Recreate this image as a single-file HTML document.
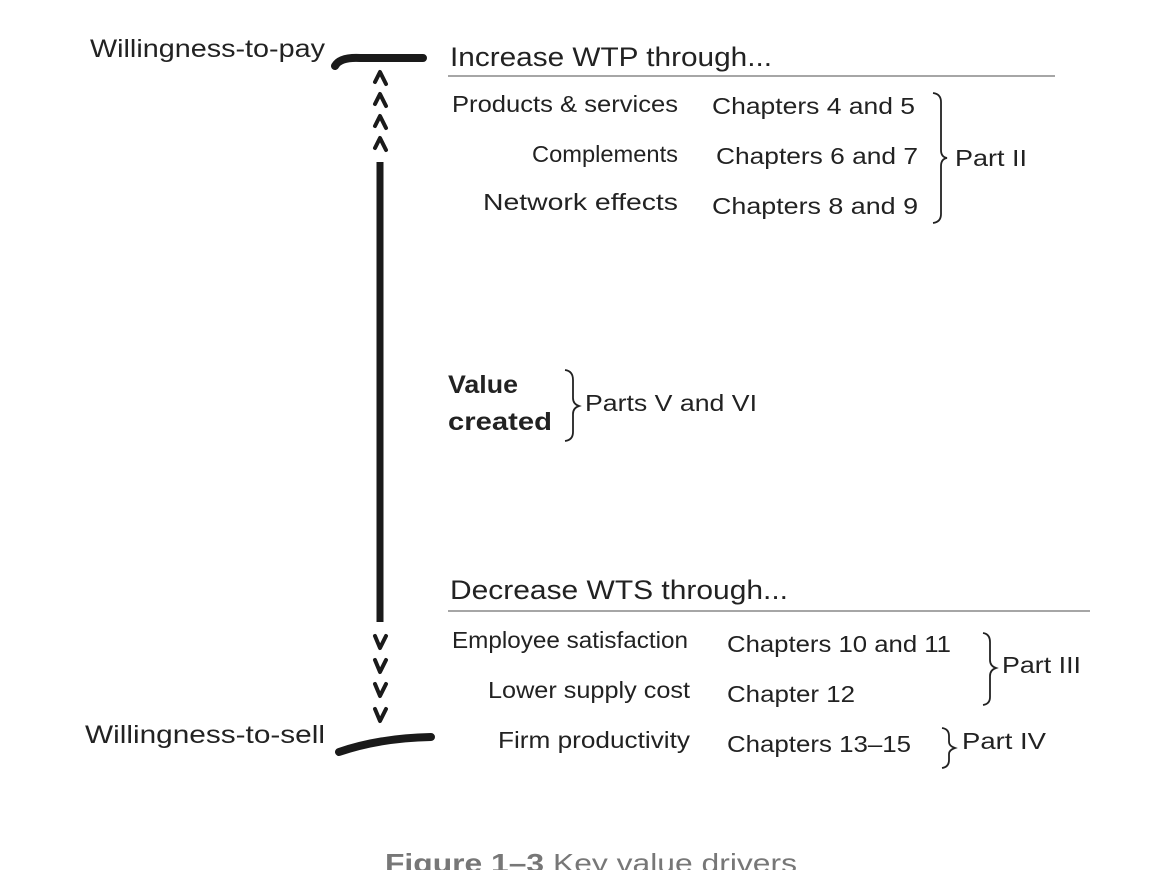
<!DOCTYPE html>
<html><head><style>
html,body{margin:0;padding:0;background:#fff;width:1160px;height:870px;overflow:hidden}
svg text{font-family:"Liberation Sans",sans-serif;fill:#222}
</style></head><body>
<svg width="1160" height="870" viewBox="0 0 1160 870" xmlns="http://www.w3.org/2000/svg">
<g font-size="25">
<text x="90" y="57" textLength="235" lengthAdjust="spacingAndGlyphs">Willingness-to-pay</text>
<text x="85" y="743" textLength="240" lengthAdjust="spacingAndGlyphs">Willingness-to-sell</text>
</g>
<path d="M335 66 Q340 57 360 58 L423 58" stroke="#1a1a1a" stroke-width="8" fill="none" stroke-linecap="round"/>
<path d="M339 752 Q380 738 431 737" stroke="#1a1a1a" stroke-width="8" fill="none" stroke-linecap="round"/>
<line x1="380" y1="162" x2="380" y2="622" stroke="#1a1a1a" stroke-width="7"/>
<g stroke="#1a1a1a" stroke-width="4" fill="none" stroke-linecap="round" stroke-linejoin="round">
<path d="M375 82 L380 72 L386 84"/><path d="M375 104 L380 94 L386 106"/>
<path d="M375 126 L380 116 L386 128"/><path d="M375 148 L380 138 L386 150"/>
<path d="M375 636 L380 648 L386 636"/><path d="M375 660 L380 672 L386 660"/>
<path d="M375 684 L380 696 L386 684"/><path d="M375 709 L380 721 L386 709"/>
</g>
<g font-size="27">
<text x="450" y="66" textLength="322" lengthAdjust="spacingAndGlyphs">Increase WTP through...</text>
<text x="450" y="599" textLength="338" lengthAdjust="spacingAndGlyphs">Decrease WTS through...</text>
</g>
<line x1="448" y1="76" x2="1055" y2="76" stroke="#888" stroke-width="1.5"/>
<line x1="448" y1="611" x2="1090" y2="611" stroke="#888" stroke-width="1.5"/>
<g font-size="23">
<text x="452" y="112" textLength="226" lengthAdjust="spacingAndGlyphs">Products &amp; services</text>
<text x="678" y="162" text-anchor="end" textLength="146" lengthAdjust="spacingAndGlyphs">Complements</text>
<text x="678" y="210" text-anchor="end" textLength="195" lengthAdjust="spacingAndGlyphs">Network effects</text>
<text x="712" y="114" textLength="203" lengthAdjust="spacingAndGlyphs">Chapters 4 and 5</text>
<text x="716" y="164" textLength="202" lengthAdjust="spacingAndGlyphs">Chapters 6 and 7</text>
<text x="712" y="214" textLength="206" lengthAdjust="spacingAndGlyphs">Chapters 8 and 9</text>
<text x="955" y="166" textLength="72" lengthAdjust="spacingAndGlyphs">Part II</text>
<text x="585" y="411" textLength="172" lengthAdjust="spacingAndGlyphs">Parts V and VI</text>
<text x="452" y="648" textLength="236" lengthAdjust="spacingAndGlyphs">Employee satisfaction</text>
<text x="690" y="698" text-anchor="end" textLength="202" lengthAdjust="spacingAndGlyphs">Lower supply cost</text>
<text x="690" y="748" text-anchor="end" textLength="192" lengthAdjust="spacingAndGlyphs">Firm productivity</text>
<text x="727" y="652" textLength="224" lengthAdjust="spacingAndGlyphs">Chapters 10 and 11</text>
<text x="727" y="702" textLength="128" lengthAdjust="spacingAndGlyphs">Chapter 12</text>
<text x="727" y="752" textLength="184" lengthAdjust="spacingAndGlyphs">Chapters 13–15</text>
<text x="1002" y="673" textLength="79" lengthAdjust="spacingAndGlyphs">Part III</text>
<text x="962" y="749" textLength="84" lengthAdjust="spacingAndGlyphs">Part IV</text>
</g>
<g font-size="25" font-weight="bold">
<text x="448" y="393" textLength="70" lengthAdjust="spacingAndGlyphs">Value</text>
<text x="448" y="430" textLength="104" lengthAdjust="spacingAndGlyphs">created</text>
</g>
<g stroke="#222" stroke-width="1.8" fill="none">
<path d="M933 93 Q941 94 941 102 L941 150 Q941 157 947 158 Q941 159 941 166 L941 214 Q941 222 933 223"/>
<path d="M565 370 Q573 371 573 380 L573 398 Q573 404 579 406 Q573 408 573 414 L573 432 Q573 440 565 441"/>
<path d="M983 633 Q990 634 990 642 L990 660 Q990 666 996 668 Q990 670 990 676 L990 697 Q990 704 983 705"/>
<path d="M942 728 Q949 729 949 736 L949 742 Q949 746 955 748 Q949 750 949 754 L949 760 Q949 767 942 768"/>
</g>
<text x="385" y="872" font-size="26" fill="#777" style="fill:#777" textLength="412" lengthAdjust="spacingAndGlyphs"><tspan font-weight="bold">Figure 1–3</tspan>  Key value drivers</text>
</svg>
</body></html>
